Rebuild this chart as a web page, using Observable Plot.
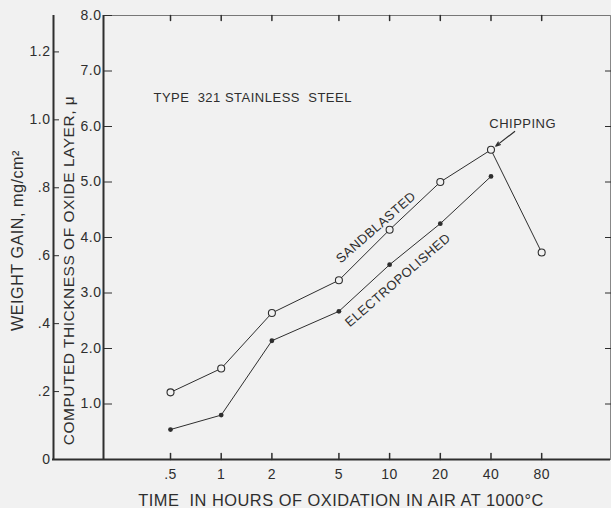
<!DOCTYPE html>
<html>
<head>
<meta charset="utf-8">
<script src="https://cdn.jsdelivr.net/npm/d3@7"></script>
<script src="https://cdn.jsdelivr.net/npm/@observablehq/plot@0.6"></script>
<style>
  html, body { margin: 0; padding: 0; background: #f1f1f1; }
  #chart svg { display: block; }
</style>
</head>
<body>
<div id="chart"></div>
<script>
// Oxidation time (hours) and their axis labels
const hours = [0.5, 1, 2, 5, 10, 20, 40, 80];
const hourLabels = [".5", "1", "2", "5", "10", "20", "40", "80"];

// Computed oxide thickness, microns
const sandblasted = [1.21, 1.64, 2.64, 3.23, 4.14, 5.00, 5.58, 3.73];
const electropolished = [0.54, 0.80, 2.14, 2.67, 3.51, 4.25, 5.10];

// Axis ticks
const thicknessTicks = [0, 1, 2, 3, 4, 5, 6, 7, 8];
const weightTicks = [0, 0.2, 0.4, 0.6, 0.8, 1.0, 1.2];
const weightLabels = ["0", ".2", ".4", ".6", ".8", "1.0", "1.2"];
const micronsPerWeight = 6.12; // microns of oxide per mg/cm² of weight gain

const sb = hours.map((h, i) => ({h, v: sandblasted[i]}));
const ep = electropolished.map((v, i) => ({h: hours[i], v}));

const ink = "#2e2e2e";
const paper = "#f1f1f1";
const font = "'Liberation Sans', Arial, sans-serif";
const xDomain = [0.2, 205];
const blank = () => "";

// a plain straight tick for vector marks
const tickShape = {draw(context, length) { context.moveTo(0, 0); context.lineTo(0, -length); }};

const plot = Plot.plot({
  width: 611,
  height: 508,
  marginLeft: 103,
  marginRight: 1,
  marginTop: 15,
  marginBottom: 49,
  style: {background: paper, fontFamily: font, fontSize: "14px", color: ink, letterSpacing: "0.5px"},
  x: {type: "log", domain: xDomain, axis: null},
  y: {domain: [0, 8]},
  marks: [
    // box edges
    Plot.frame({anchor: "top", stroke: "#777"}),
    Plot.frame({anchor: "right", stroke: "#888"}),
    Plot.ruleX([xDomain[0]], {stroke: ink, strokeWidth: 2}),
    Plot.ruleX([xDomain[0]], {stroke: ink, strokeWidth: 2, dx: -50}),
    Plot.ruleY([0], {x1: xDomain[0], x2: xDomain[1], insetLeft: -51, stroke: ink, strokeWidth: 2}),

    // inner axis: oxide thickness
    Plot.axisY({ticks: thicknessTicks, tickSize: -9, tickFormat: blank, label: null}),
    Plot.axisY({ticks: thicknessTicks.slice(1), tickSize: 0, tickPadding: 2, tickFormat: d => d.toFixed(1), label: null}),
    Plot.axisY({anchor: "right", ticks: thicknessTicks.slice(1, 8), tickSize: -6, tickFormat: blank, label: null}),

    // outer axis: weight gain
    Plot.axisY({ticks: weightTicks.map(w => w * micronsPerWeight), tickSize: -6, dx: -50, tickFormat: blank, label: null}),
    Plot.axisY({ticks: weightTicks.map(w => w * micronsPerWeight), tickSize: 0, tickPadding: 3, dx: -50,
      tickFormat: d => weightLabels[weightTicks.findIndex(w => Math.abs(w * micronsPerWeight - d) < 1e-6)], label: null}),

    // time axis: ticks on both edges and labels below
    Plot.vector(hours, {x: d => d, frameAnchor: "bottom", length: 6, anchor: "start", shape: tickShape, stroke: ink}),
    Plot.vector(hours, {x: d => d, frameAnchor: "top", length: 5, rotate: 180, anchor: "start", shape: tickShape, stroke: ink}),
    Plot.text(hours, {x: d => d, frameAnchor: "bottom", text: (d, i) => hourLabels[i], lineAnchor: "top", dy: 10, fill: ink}),

    // axis titles
    Plot.text(["TIME  IN HOURS OF OXIDATION IN AIR AT 1000°C"], {frameAnchor: "bottom", textAnchor: "middle", lineAnchor: "middle", dx: -16, dy: 41, fontSize: 16.4, fill: ink}),
    Plot.text(["WEIGHT GAIN, mg/cm²"], {frameAnchor: "left", textAnchor: "middle", lineAnchor: "middle", rotate: -90, dx: -86, dy: 3, fontSize: 16.2, fill: ink}),
    Plot.text(["COMPUTED THICKNESS OF OXIDE LAYER, μ"], {frameAnchor: "left", textAnchor: "middle", lineAnchor: "middle", rotate: -90, dx: -34, dy: 33, fontSize: 15.5, fill: ink}),

    // series
    Plot.line(sb, {x: "h", y: "v", stroke: ink, strokeWidth: 1}),
    Plot.line(ep, {x: "h", y: "v", stroke: ink, strokeWidth: 1}),
    Plot.dot(sb, {x: "h", y: "v", r: 3.5, stroke: ink, fill: paper, strokeWidth: 1.1}),
    Plot.dot(ep, {x: "h", y: "v", r: 2.4, fill: ink}),

    // annotations
    Plot.text(["TYPE  321 STAINLESS  STEEL"], {x: 0.396, y: 6.52, textAnchor: "start", fontSize: 13, fill: ink}),
    Plot.text(["SANDBLASTED"], {x: 8.3, y: 4.18, rotate: -41, fontSize: 13, fill: ink}),
    Plot.text(["ELECTROPOLISHED"], {x: 11.2, y: 3.23, rotate: -41, fontSize: 13, fill: ink}),
    Plot.text(["CHIPPING"], {x: 61.7, y: 6.05, fontSize: 13, fill: ink}),
    Plot.arrow([0], {x1: 55.3, y1: 5.91, x2: hours[6], y2: sandblasted[6], insetEnd: 6,
      headLength: 6, headAngle: 40, stroke: ink, strokeWidth: 1.2})
  ]
});

document.getElementById("chart").append(plot);
</script>
</body>
</html>
